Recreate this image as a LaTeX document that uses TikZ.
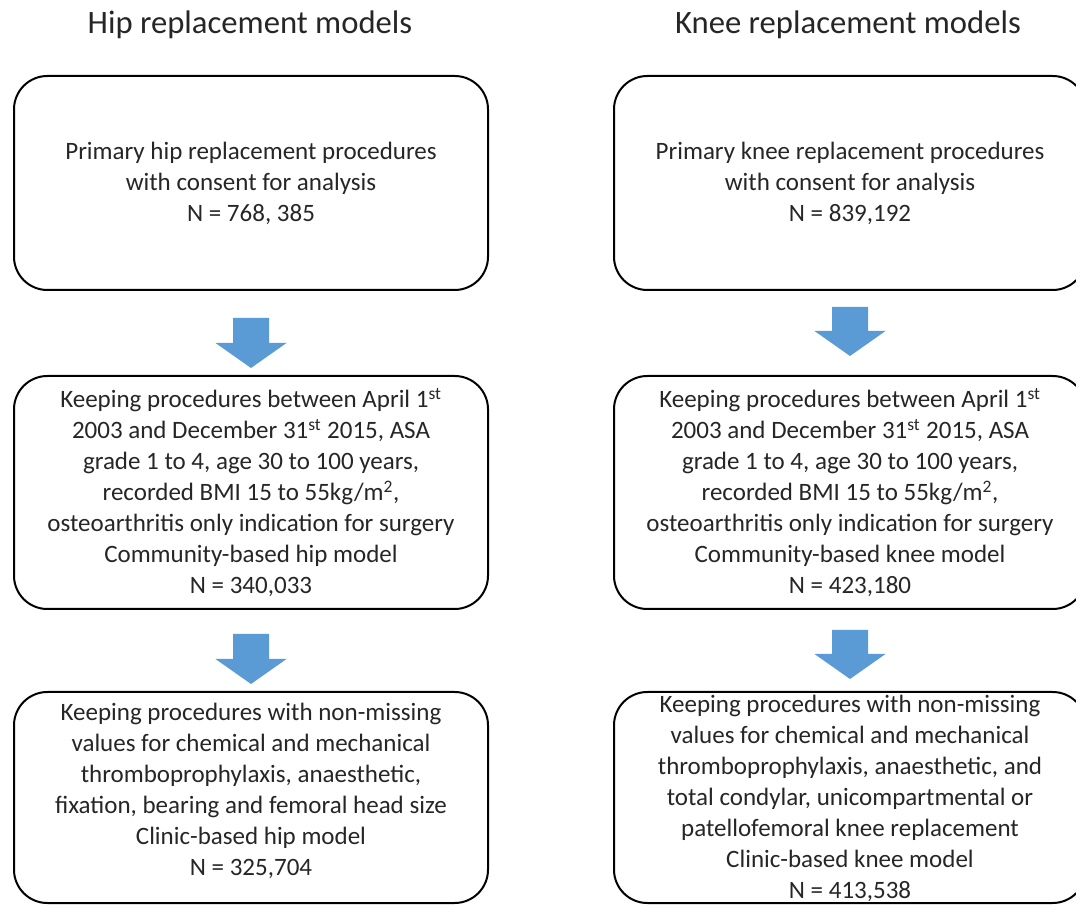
\documentclass[tikz,border=0pt]{standalone}
\usepackage{fontspec}
\setmainfont{Carlito}
\usetikzlibrary{calc}
\definecolor{arrowblue}{HTML}{5B9BD5}
\definecolor{textgray}{HTML}{262626}
\newcommand\blockarrow[4]{%
  \fill[arrowblue] let \p1=($(#1.south)+(0,#3)$), \p2=($(#2.north)+(0,-#4)$) in
    (\x1-13.5pt,\y1) -- (\x1+13.5pt,\y1) -- (\x1+13.5pt,\y2+18.75pt) -- (\x1+26.625pt,\y2+18.75pt)
    -- (\x1,\y2) -- (\x1-26.625pt,\y2+18.75pt) -- (\x1-13.5pt,\y2+18.75pt) -- cycle;}
\begin{document}
\begin{tikzpicture}[x=0.75pt,y=-0.75pt,
  flowbox/.style={draw=black, line width=1.5pt, rounded corners=25pt, align=center,
    font=\fontsize{18.75}{23.25}\selectfont, inner sep=0pt, text=textgray},
  hiptitle/.style={font=\fontsize{24.5}{28}\selectfont, anchor=base, text=textgray, inner sep=0pt}]
\useasboundingbox (0,0) rectangle (1076,905);
\clip (0,0) rectangle (1076,905);
\fill[white] (0,0) rectangle (1076,905);

\node[hiptitle] (th) at (250,34) {Hip replacement models};
\node[hiptitle] (tk) at (848,34) {Knee replacement models};

\node[flowbox, minimum width=355.5pt, minimum height=160.5pt] (h1) at (251,183)
  {Primary hip replacement procedures\\with consent for analysis\\N = 768, 385};
\node[flowbox, minimum width=355.5pt, minimum height=174.75pt] (h2) at (251,492.5)
  {Keeping procedures between April 1\textsuperscript{st}\\2003 and December 31\textsuperscript{st} 2015, ASA\\grade 1 to 4, age 30 to 100 years,\\recorded BMI 15 to 55kg/m\textsuperscript{2},\\osteoarthritis only indication for surgery\\Community-based hip model\\N = 340,033};
\node[flowbox, minimum width=355.5pt, minimum height=158.25pt] (h3) at (251,797.5)
  {Keeping procedures with non-missing\\values for chemical and mechanical\\thromboprophylaxis, anaesthetic,\\fixation, bearing and femoral head size\\Clinic-based hip model\\N = 325,704\rule[-12pt]{0pt}{0pt}};

\node[flowbox, minimum width=354pt, minimum height=160.5pt] (k1) at (850,183)
  {Primary knee replacement procedures\\with consent for analysis\\N = 839,192};
\node[flowbox, minimum width=354pt, minimum height=174.75pt] (k2) at (850,492.5)
  {Keeping procedures between April 1\textsuperscript{st}\\2003 and December 31\textsuperscript{st} 2015, ASA\\grade 1 to 4, age 30 to 100 years,\\recorded BMI 15 to 55kg/m\textsuperscript{2},\\osteoarthritis only indication for surgery\\Community-based knee model\\N = 423,180};
\node[flowbox, minimum width=354pt, minimum height=158.25pt] (k3) at (850,797.5)
  {\rule{0pt}{15pt}Keeping procedures with non-missing\\values for chemical and mechanical\\thromboprophylaxis, anaesthetic, and\\total condylar, unicompartmental or\\patellofemoral knee replacement\\Clinic-based knee model\\N = 413,538};

\blockarrow{h1}{h2}{27}{7}
\blockarrow{h2}{h3}{24}{7}
\blockarrow{k1}{k2}{16}{19}
\blockarrow{k2}{k3}{20}{12}
\end{tikzpicture}
\end{document}
